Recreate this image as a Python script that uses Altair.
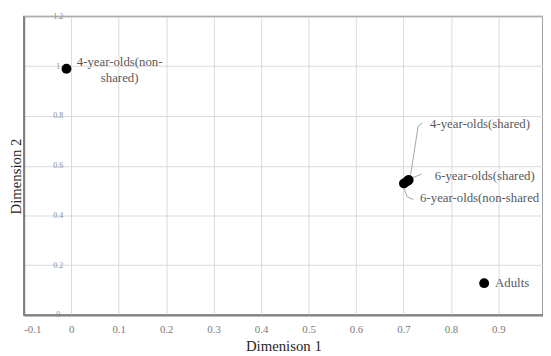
import altair as alt
import pandas as pd

# Points
groups = ["4-year-olds(non-shared)", "4-year-olds(shared)", "6-year-olds(shared)",
          "6-year-olds(non-shared)", "Adults"]
dim1 = [-0.01, 0.708, 0.711, 0.701, 0.87]
dim2 = [0.99, 0.538, 0.543, 0.529, 0.128]

# Label lines (data coordinates)
label_lines = ["4-year-olds(non-", "shared)", "4-year-olds(shared)", "6-year-olds(shared)",
               "6-year-olds(non-shared", "Adults"]
label_x = [0.102, 0.102, 0.756, 0.766, 0.735, 0.893]
label_y = [1.017, 0.954, 0.768, 0.558, 0.470, 0.128]
label_centered = [True, True, False, False, False, False]

# Leader lines (data coordinates)
leader_id = [1, 1, 1, 2, 2, 3, 3, 3]
leader_order = [0, 1, 2, 0, 1, 0, 1, 2]
leader_x = [0.715, 0.731, 0.740, 0.717, 0.738, 0.700, 0.708, 0.721]
leader_y = [0.562, 0.760, 0.772, 0.550, 0.566, 0.515, 0.475, 0.464]

# Axis ticks
x_ticks = [-0.1, 0, 0.1, 0.2, 0.3, 0.4, 0.5, 0.6, 0.7, 0.8, 0.9]
y_ticks = [0, 0.2, 0.4, 0.6, 0.8, 1.0, 1.2]

pts = pd.DataFrame({"group": groups, "d1": dim1, "d2": dim2})
labs = pd.DataFrame({"text": label_lines, "lx": label_x, "ly": label_y, "c": label_centered})
lead = pd.DataFrame({"id": leader_id, "o": leader_order, "x": leader_x, "y": leader_y})

FONT = "Liberation Serif"

xscale = alt.Scale(domain=[-0.1, 0.994], nice=False, zero=False)
yscale = alt.Scale(domain=[0, 1.2], nice=False, zero=False)

xaxis = alt.Axis(
    values=x_ticks, title="Dimenison 1", grid=True, ticks=False,
    labelExpr="datum.value < 0 ? '-' + format(-datum.value, '.1~f') : format(datum.value, '.1~f')",
    labelFont=FONT, labelFontSize=11, labelColor="#7a7a7a", labelPadding=9,
    domainColor="#7f7f7f", domainWidth=2,
    gridColor="#d9d9d9", gridWidth=1,
    titleFont=FONT, titleFontSize=15, titleFontWeight="normal", titleColor="#262626",
    titleY=36, titleBaseline="alphabetic",
)
yaxis = alt.Axis(
    values=y_ticks, title="Dimension 2", grid=True, ticks=False,
    format=".1~f",
    labelFont=FONT, labelFontSize=8, labelColor="#8c8c8c", labelPadding=-34.5,
    labelAlign="center", labelBaseline="middle",
    domainColor="#7f7f7f", domainWidth=2,
    gridColor="#d9d9d9", gridWidth=1,
    titleFont=FONT, titleFontSize=15, titleFontWeight="normal", titleColor="#262626",
    titleAngle=-90, titleX=-3.5, titleY=162, titleBaseline="alphabetic", titleAlign="center",
)

points = alt.Chart(pts).mark_circle(size=100, color="black", opacity=1).encode(
    x=alt.X("d1:Q", scale=xscale, axis=xaxis),
    y=alt.Y("d2:Q", scale=yscale, axis=yaxis),
)

leaders = alt.Chart(lead).mark_line(color="#a6a6a6", strokeWidth=1).encode(
    x=alt.X("x:Q", scale=xscale),
    y=alt.Y("y:Q", scale=yscale),
    detail="id:N",
    order="o:Q",
)

text_c = alt.Chart(labs).transform_filter("datum.c").mark_text(
    font=FONT, fontSize=13, color="#595959", align="center", baseline="middle"
).encode(
    x=alt.X("lx:Q", scale=xscale), y=alt.Y("ly:Q", scale=yscale), text="text:N"
)
text_l = alt.Chart(labs).transform_filter("!datum.c").mark_text(
    font=FONT, fontSize=13, color="#595959", align="left", baseline="middle"
).encode(
    x=alt.X("lx:Q", scale=xscale), y=alt.Y("ly:Q", scale=yscale), text="text:N"
)

chart = alt.layer(leaders, points, text_c, text_l).properties(
    width=527, height=303,
    autosize=alt.AutoSizeParams(type="none"),
    padding={"left": 16, "top": 6, "right": 0, "bottom": 40},
    background="white",
).configure_view(stroke="#7f7f7f", strokeWidth=1.5)

chart.save("out.html", embed_options={"renderer": "svg", "actions": False})
